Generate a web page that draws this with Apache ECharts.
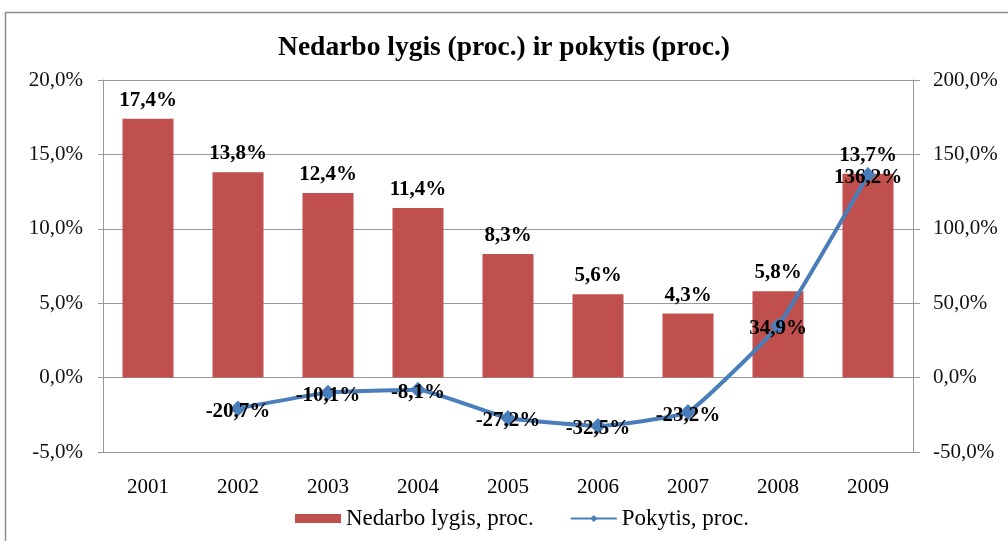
<!DOCTYPE html>
<html><head><meta charset="utf-8">
<script src="https://cdn.jsdelivr.net/npm/echarts@6/dist/echarts.min.js"></script>
<style>html,body{margin:0;padding:0;background:#fff}#c{width:1008px;height:541px}</style>
</head><body><div id="c"></div>
<script>
var categories = ['2001','2002','2003','2004','2005','2006','2007','2008','2009'];
var unemployment = [17.4, 13.8, 12.4, 11.4, 8.3, 5.6, 4.3, 5.8, 13.7];
var change = [null, -20.7, -10.1, -8.1, -27.2, -32.5, -23.2, 34.9, 136.2];
var leftTicks = [-5, 0, 5, 10, 15, 20];
var rightTicks = [-50, 0, 50, 100, 150, 200];

function fmt(v){ return v.toFixed(1).replace('.', ',') + '%'; }
var serif = '"Liberation Serif","Times New Roman",serif';
var chart = echarts.init(document.getElementById('c'));
chart.setOption({
  animation: false,
  graphic: [{type:'rect', shape:{x:5.5,y:12.5,width:1010,height:540}, style:{fill:'none', stroke:'#8c8c8c', lineWidth:1.5}}],
  title: {text:'Nedarbo lygis (proc.) ir pokytis (proc.)', left:'center', top:29,
    textStyle:{fontFamily:serif, fontWeight:'bold', fontSize:27.5, color:'#000'}},
  grid: {left:103, right:95, top:80, bottom:89},
  legend: {bottom:6, left:290, itemGap:36, itemWidth:46, itemHeight:9,
    textStyle:{fontFamily:serif, fontSize:23, color:'#000'},
    data:[{name:'Nedarbo lygis, proc.', icon:'rect'}, {name:'Pokytis, proc.'}]},
  xAxis: {type:'category', data:categories,
    axisLine:{show:false}, axisTick:{show:false},
    axisLabel:{fontFamily:serif, fontSize:21, color:'#000', margin:25}},
  yAxis: [
    {type:'value', min:leftTicks[0], max:leftTicks[leftTicks.length-1], interval:5, position:'left',
     axisLine:{show:true, lineStyle:{color:'#999'}}, axisTick:{show:true, length:5, lineStyle:{color:'#999'}},
     splitLine:{lineStyle:{color:'#999'}},
     axisLabel:{fontFamily:serif, fontSize:21, color:'#111', margin:20, formatter:function(v){return fmt(v);}}},
    {type:'value', min:rightTicks[0], max:rightTicks[rightTicks.length-1], interval:50, position:'right',
     axisLine:{show:true, lineStyle:{color:'#999'}}, axisTick:{show:true, length:7, lineStyle:{color:'#999'}},
     splitLine:{show:false},
     axisLabel:{fontFamily:serif, fontSize:21, color:'#111', margin:20, formatter:function(v){return fmt(v);}}}
  ],
  series: [
    {name:'Nedarbo lygis, proc.', type:'bar', data:unemployment, barWidth:51,
     itemStyle:{color:'#C0504D'},
     label:{show:true, position:'top', distance:8, fontFamily:serif, fontWeight:'bold', fontSize:21, color:'#000',
       formatter:function(p){return fmt(p.value);}}},
    {name:'Pokytis, proc.', type:'line', yAxisIndex:1, data:change, smooth:0.12,
     symbol:'diamond', symbolSize:16, connectNulls:false,
     lineStyle:{color:'#4A7EBB', width:4}, itemStyle:{color:'#4A7EBB'},
     label:{show:true, position:'inside', offset:[0,3], fontFamily:serif, fontWeight:'bold', fontSize:21, color:'#000',
       formatter:function(p){return fmt(p.value);}}}
  ]
});
</script></body></html>
